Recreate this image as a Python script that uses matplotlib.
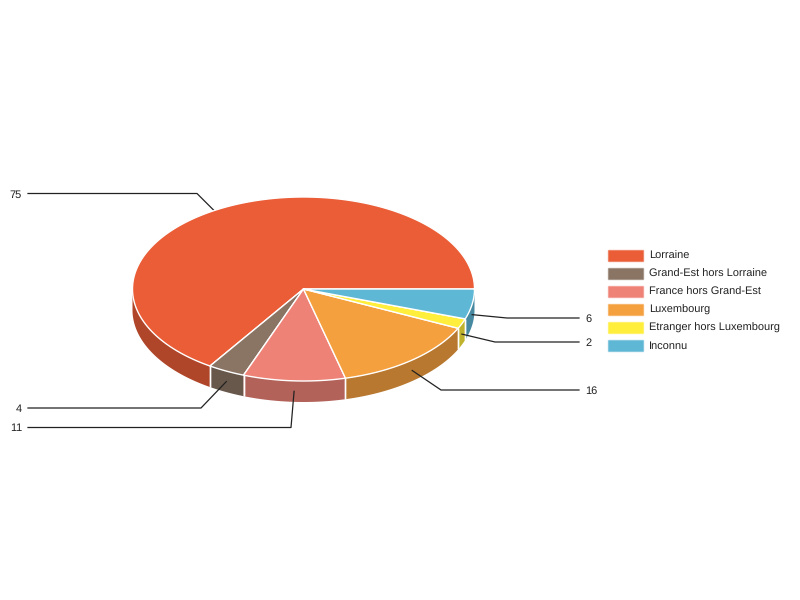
import matplotlib
matplotlib.use('Agg')
import matplotlib.pyplot as plt
import numpy as np
from matplotlib.patches import Polygon, Rectangle

plt.rcParams['font.family'] = ['Liberation Sans', 'DejaVu Sans']
plt.rcParams['text.hinting'] = 'no_hinting'
plt.rcParams['text.hinting_factor'] = 1

# Data
categories = ['Lorraine', 'Grand-Est hors Lorraine', 'France hors Grand-Est',
              'Luxembourg', 'Etranger hors Luxembourg', 'Inconnu']
values = [75, 4, 11, 16, 2, 6]
colors = ['#EA5D37', '#8A7565', '#EF8277', '#F5A03E', '#FFEE3C', '#5EB7D5']

# Pie geometry, in pixels
cx, cy = 303.5, 289
rx, ry = 171, 92
depth = 21
shade = 0.75

# Leader line elbows and label ends, same order as values
elbow_x = [197, 201, 291, 441, 495, 507]
label_y = [193.5, 408, 427.5, 390, 342, 318]
label_side = ['left', 'left', 'left', 'right', 'right', 'right']


def ellipse_pts(a0, a1, dy=0):
    t = np.radians(np.linspace(a0, a1, max(int(abs(a1 - a0) * 2), 2)))
    return np.column_stack([cx + rx * np.cos(t), cy - ry * np.sin(t) + dy])


def darker(col):
    rgb = np.array(matplotlib.colors.to_rgb(col))
    return tuple(rgb * shade)


fig = plt.figure(figsize=(8, 6), dpi=100)
ax = fig.add_axes([0, 0, 1, 1])
ax.set_xlim(0, 800)
ax.set_ylim(600, 0)
ax.axis('off')

total = sum(values)
bounds = np.concatenate([[0], np.cumsum(values)]) / total * 360

for i, val in enumerate(values):
    start, end = bounds[i], bounds[i + 1]

    # side wall, only the part of the slice facing the viewer
    a0, a1 = max(start, 180), end
    if a1 > a0:
        top = ellipse_pts(a0, a1)
        bottom = ellipse_pts(a1, a0, depth)
        ax.add_patch(Polygon(np.vstack([top, bottom]), closed=True,
                             facecolor=darker(colors[i]), edgecolor='none', zorder=2))
        for a in (start, end):
            if 180 <= a < 360:
                p = ellipse_pts(a, a)[0]
                ax.plot([p[0], p[0]], [p[1], p[1] + depth], color='white', lw=1, zorder=2.5,
                        solid_capstyle='butt')

    # top face
    pts = np.vstack([[cx, cy], ellipse_pts(start, end)])
    ax.add_patch(Polygon(pts, closed=True, facecolor=colors[i], edgecolor='white',
                         lw=1, joinstyle='round', zorder=3))

    # leader line and value label
    mid = np.radians((start + end) / 2)
    ax_x = cx + rx * np.cos(mid)
    ax_y = cy - ry * np.sin(mid) + depth / 2
    if label_side[i] == 'left':
        end_x, tx, ha = 28, 22, 'right'
    else:
        end_x, tx, ha = 579, 585, 'left'
    ax.plot([ax_x, elbow_x[i], end_x], [ax_y, label_y[i], label_y[i]],
            color='#222222', lw=0.9, zorder=4 if np.sin(mid) < 0 else 1)
    ax.text(tx, label_y[i], str(val), ha=ha, va='center_baseline',
            fontsize=7.92, color='#222222')

# Legend
for i, name in enumerate(categories):
    y = 255 + 18 * i
    ax.add_patch(Rectangle((608, y - 5.5), 35, 11, facecolor=colors[i],
                           edgecolor=(*matplotlib.colors.to_rgb(colors[i]), 0.5), lw=1))
    ax.text(649, y, name, ha='left', va='center_baseline', fontsize=7.92, color='#222222')

fig.savefig('out.png', dpi=100, facecolor='white')
